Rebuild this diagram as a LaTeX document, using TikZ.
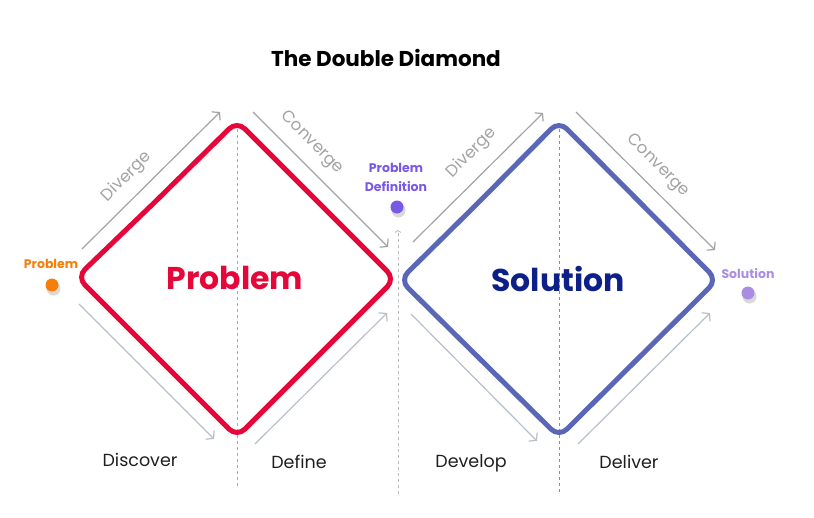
\documentclass[tikz,border=0pt]{standalone}
\usepackage{fontspec}
\setmainfont{Poppins}
\usepackage{tikz}
\usetikzlibrary{arrows.meta}

\definecolor{probred}{HTML}{E5063A}
\definecolor{probpink}{HTML}{F08AA2}
\definecolor{solblue}{HTML}{5A66B6}
\definecolor{solnavy}{HTML}{0C2088}
\definecolor{dotorange}{HTML}{F57F0A}
\definecolor{dotpurple}{HTML}{7A58E6}
\definecolor{dotlilac}{HTML}{AA8DE2}
\definecolor{upgray}{HTML}{A3A3A3}
\definecolor{lowgray}{HTML}{B9BFC7}

\tikzset{
  flow/.style={line width=1.2pt, -{Straight Barb[length=5pt,width=12pt,line width=1.2pt]}},
  guide/.style={line width=0.8pt, dash pattern=on 3pt off 3pt},
  phase/.style={font=\fontsize{17.5}{20}\selectfont, text=black!88, anchor=base},
  sidetext/.style={font=\fontsize{16.5}{18}\selectfont, text=upgray},
  marker/.style={font=\bfseries\fontsize{12.5}{19}\selectfont, anchor=base},
}

\begin{document}
\begin{tikzpicture}[x=1pt,y=-1pt]
    \useasboundingbox (0,0) rectangle (814,517);
    \node[font=\bfseries\fontsize{21.5}{24}\selectfont, anchor=base] (title) at (386,66) {The Double Diamond};
    % dashed guides
    \draw[probpink, guide] (237,123) -- (237,487);
    \draw[solblue!75, guide] (559,123) -- (559,494);
    \draw[gray!55, guide, -{Straight Barb[length=2pt,width=6pt,line width=0.8pt]}] (398,494) -- (398,230);
    % diamonds
    \draw[probred, line width=5pt, rounded corners=11pt] (157,200) -- (237,121) -- (395,279) -- (237,437) -- (77,277) -- cycle;
    \draw[solblue, line width=5pt, rounded corners=11pt] (480,201) -- (559,121) -- (717,280) -- (559,437) -- (400,280) -- cycle;
    \node[font=\bfseries\fontsize{31.5}{34}\selectfont, text=probred, anchor=base] (prob) at (235,289) {Problem};
    \node[font=\bfseries\fontsize{31.5}{34}\selectfont, text=solnavy, anchor=base] (sol) at (558,291) {Solution};
    % arrows
    \coordinate (d1a) at (82,249);  \coordinate (d1b) at (220,112);
    \coordinate (c1a) at (253,112); \coordinate (c1b) at (388,247);
    \coordinate (d2a) at (413,242); \coordinate (d2b) at (543,113);
    \coordinate (c2a) at (576,112); \coordinate (c2b) at (715,250);
    \coordinate (disa) at (79,304); \coordinate (disb) at (214,439);
    \coordinate (defa) at (255,444); \coordinate (defb) at (387,313);
    \coordinate (deva) at (411,314); \coordinate (devb) at (537,441);
    \coordinate (dela) at (578,444); \coordinate (delb) at (710,313);
    \draw[flow, upgray] (d1a) -- (d1b);
    \draw[flow, upgray] (c1a) -- (c1b);
    \draw[flow, upgray] (d2a) -- (d2b);
    \draw[flow, upgray] (c2a) -- (c2b);
    \draw[flow, lowgray] (disa) -- (disb);
    \draw[flow, lowgray] (defa) -- (defb);
    \draw[flow, lowgray] (deva) -- (devb);
    \draw[flow, lowgray] (dela) -- (delb);
    \node[sidetext, rotate=45] (div1) at (127,177) {Diverge};
    \node[sidetext, rotate=-45] (con1) at (312,143) {Converge};
    \node[sidetext, rotate=45] (div2) at (472,153) {Diverge};
    \node[sidetext, rotate=-45] (con2) at (658,166) {Converge};
    % phases
    \node[phase] (discover) at (140,466) {Discover};
    \node[phase] (define) at (299,468) {Define};
    \node[phase] (develop) at (471,467) {Develop};
    \node[phase] (deliver) at (629,468) {Deliver};
    % markers
    \node[marker, text=dotorange] (startlbl) at (51,268) {Problem};
    \fill[black, opacity=0.15] (53.5,288.5) circle (7);
    \fill[dotorange] (52,285) circle (6.5);
    \node[marker, text=dotpurple] (midlbl) at (396,172) {Problem};
    \node[marker, text=dotpurple] (midlbl2) at (396,191) {Definition};
    \fill[black, opacity=0.15] (398.5,210.5) circle (7);
    \fill[dotpurple] (397,207) circle (6.5);
    \node[marker, text=dotlilac] (endlbl) at (748,278) {Solution};
    \fill[black, opacity=0.15] (749.5,296.5) circle (7);
    \fill[dotlilac] (748,293) circle (6.5);
\end{tikzpicture}
\end{document}
